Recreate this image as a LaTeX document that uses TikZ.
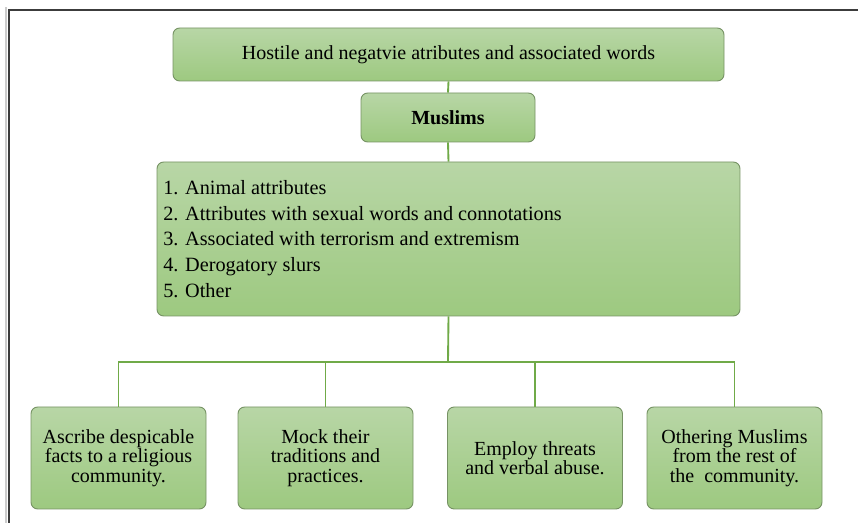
\documentclass[tikz,border=0pt]{standalone}
\usepackage{fontspec}
\setmainfont{Liberation Serif}
\definecolor{boxtop}{RGB}{184,214,166}
\definecolor{boxbot}{RGB}{157,201,128}
\definecolor{boxedge}{RGB}{118,146,100}
\definecolor{conn}{RGB}{112,170,72}
\definecolor{frame}{RGB}{60,60,60}
\begin{document}
\begin{tikzpicture}[x=0.75pt,y=-0.75pt,
  box/.style={draw=boxedge, line width=0.7pt, rounded corners=5pt,
    top color=boxtop, bottom color=boxbot, inner sep=0pt, align=center,
    font=\fontsize{15pt}{14.5pt}\selectfont},
  smallbox/.style={box, minimum width=131.25pt, minimum height=76.5pt},
  connline/.style={draw=conn, line width=1.4pt}]
\useasboundingbox (0,0) rectangle (858,523);
\draw[black!20, line width=1pt] (6,523) -- (6,7);
\draw[frame, line width=1.2pt] (9,523) -- (9,10) -- (858,10);

\node[box, minimum width=413.25pt, minimum height=39.75pt] (top) at (448.5,54.5)
  {Hostile and negatvie atributes and associated words};
\node[box, minimum width=130.5pt, minimum height=36.75pt, font=\fontsize{15pt}{14.5pt}\selectfont\bfseries] (mus) at (448,117.5) {Muslims};
\node[box, minimum width=437.25pt, minimum height=115.5pt] (list) at (448.5,239) {};
\node[anchor=west, align=left, inner sep=0pt, font=\fontsize{15.2pt}{19.4pt}\selectfont] (items) at (163,239)
  {1. Animal attributes\\
   2. Attributes with sexual words and connotations\\
   3. Associated with terrorism and extremism\\
   4. Derogatory slurs\\
   5. Other};

\node[smallbox] (b1) at (118.5,458) {Ascribe despicable\\facts to a religious\\community.};
\node[smallbox] (b2) at (325.5,458) {Mock their\\traditions and\\practices.};
\node[smallbox] (b3) at (535,458) {Employ threats\\and verbal abuse.};
\node[smallbox] (b4) at (734.5,458) {Othering Muslims\\from the rest of\\the\ \ community.};

\coordinate (hub) at (448,362);
\draw[connline] (top.south) -- (mus.north);
\draw[connline] (mus.south) -- (list.north);
\draw[connline] (list.south) -- (hub);
\foreach \b in {b1,b2,b3,b4} \draw[connline] (hub) -| (\b.north);
\end{tikzpicture}
\end{document}
